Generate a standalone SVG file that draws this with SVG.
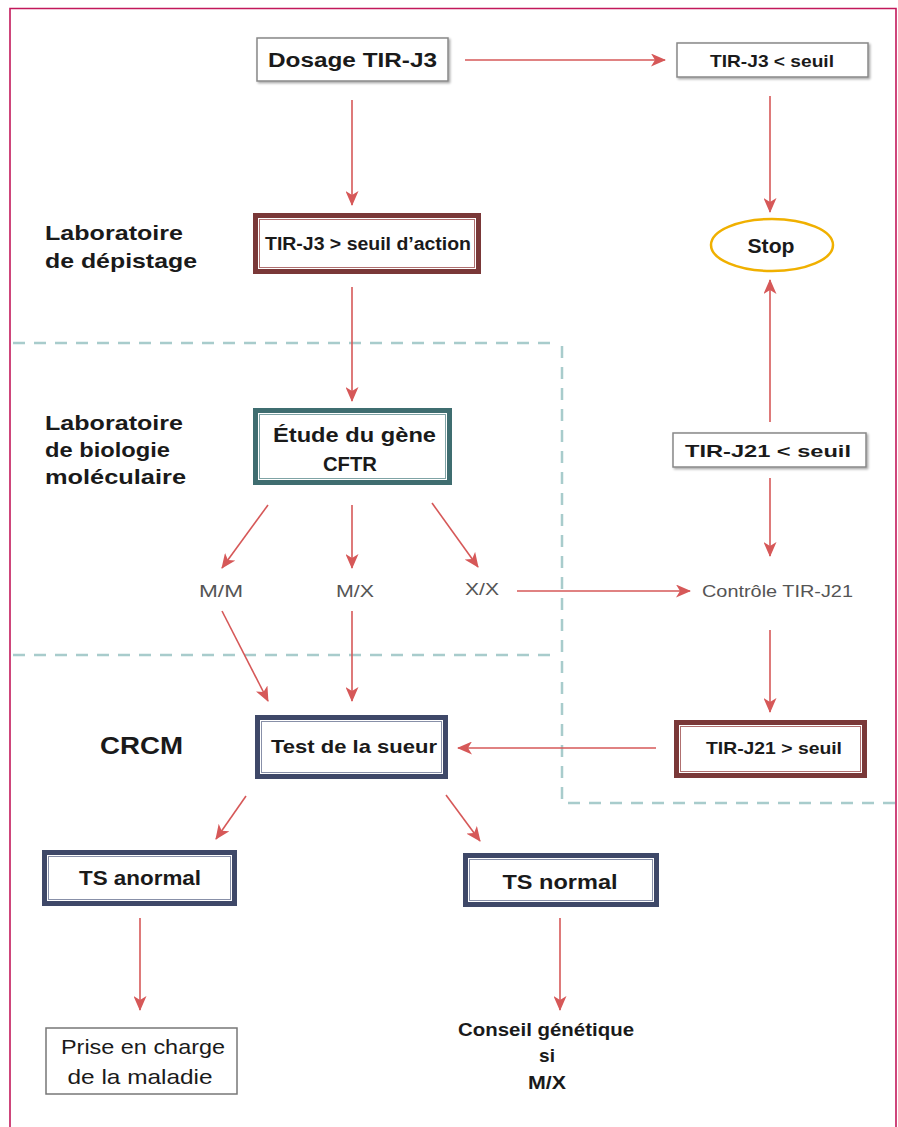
<svg xmlns="http://www.w3.org/2000/svg" width="898" height="1127" viewBox="0 0 898 1127">
<defs>
<marker id="ah" viewBox="0 0 15 13" refX="14" refY="6.5" markerWidth="15" markerHeight="13" markerUnits="userSpaceOnUse" orient="auto">
<path d="M0,0 L15,6.5 L0,13 L4,6.5 Z" fill="#d65858"/>
</marker>
<filter id="sh" x="-10%" y="-20%" width="130%" height="150%">
<feDropShadow dx="1.5" dy="1.5" stdDeviation="1" flood-color="#000" flood-opacity="0.35"/>
</filter>
</defs>
<style>
.frame{fill:none;stroke:#c2185b;stroke-width:1.6}
.dash{fill:none;stroke:#a8cccc;stroke-width:2.5;stroke-dasharray:12 9}
.c{fill:none;stroke:#d65858;stroke-width:1.6;marker-end:url(#ah)}
.thin{fill:#fff;stroke:#888;stroke-width:1.5;filter:url(#sh)}
.red{fill:#fff;stroke:#7a3838;stroke-width:5}
.redi{fill:none;stroke:#b07070;stroke-width:1}
.teal{fill:#fff;stroke:#3f6d70;stroke-width:5}
.teali{fill:none;stroke:#7fa3a5;stroke-width:1}
.navy{fill:#fff;stroke:#3e4868;stroke-width:5}
.navyi{fill:none;stroke:#8890a8;stroke-width:1}
text{font-family:"Liberation Sans",Arial,sans-serif;fill:#1a1a1a}
.b{font-weight:bold}
.lbl{font-weight:bold;font-size:21px}
.n{font-weight:normal;fill:#555;font-size:17px}
</style>
<rect width="898" height="1127" fill="#fff"/>
<path class="frame" d="M10,1127 V8.5 H896 V1127"/>
<g id="zones">
<path class="dash" d="M13,343 H558"/>
<path class="dash" d="M562,346 V802"/>
<path class="dash" d="M13,655 H558"/>
<path class="dash" d="M568,803 H895"/>
</g>
<g id="labels">
<text class="lbl" x="45" y="240" textLength="138" lengthAdjust="spacingAndGlyphs">Laboratoire</text>
<text class="lbl" x="45" y="268" textLength="152" lengthAdjust="spacingAndGlyphs">de dépistage</text>
<text class="lbl" x="45" y="430" textLength="138" lengthAdjust="spacingAndGlyphs">Laboratoire</text>
<text class="lbl" x="45" y="457" textLength="125" lengthAdjust="spacingAndGlyphs">de biologie</text>
<text class="lbl" x="45" y="484" textLength="141" lengthAdjust="spacingAndGlyphs">moléculaire</text>
<text class="b" x="100" y="754" font-size="23" textLength="83" lengthAdjust="spacingAndGlyphs">CRCM</text>
</g>
<g id="connectors">
<path class="c" d="M465,60 H665"/>
<path class="c" d="M352,100 V205"/>
<path class="c" d="M770,96 V212"/>
<path class="c" d="M352,287 V401"/>
<path class="c" d="M770,422 V280"/>
<path class="c" d="M770,478 V556"/>
<path class="c" d="M268,505 L222,568"/>
<path class="c" d="M352,505 V568"/>
<path class="c" d="M432,503 L478,567"/>
<path class="c" d="M517,591 H690"/>
<path class="c" d="M222,611 L268,701"/>
<path class="c" d="M352,611 V701"/>
<path class="c" d="M770,630 V712"/>
<path class="c" d="M656,748 H458"/>
<path class="c" d="M246,796 L216,839"/>
<path class="c" d="M446,795 L480,841"/>
<path class="c" d="M140,918 V1010"/>
<path class="c" d="M560,918 V1010"/>
</g>
<g id="n-dosage">
<rect class="thin" x="257" y="38" width="191" height="43"/>
<text class="b" x="352.5" y="67" font-size="20" text-anchor="middle" textLength="169" lengthAdjust="spacingAndGlyphs">Dosage TIR-J3</text>
</g>
<g id="n-tirj3-inf">
<rect class="thin" x="677" y="43" width="191" height="34"/>
<text class="b" x="772" y="67" font-size="17" text-anchor="middle" textLength="124" lengthAdjust="spacingAndGlyphs">TIR-J3 &lt; seuil</text>
</g>
<g id="n-tirj3-sup">
<rect class="red" x="255.5" y="215.5" width="223" height="56"/>
<rect class="redi" x="259.5" y="219.5" width="215" height="48"/>
<text class="b" x="368" y="250" font-size="17.5" text-anchor="middle" textLength="206" lengthAdjust="spacingAndGlyphs">TIR-J3 &gt; seuil d’action</text>
</g>
<g id="n-stop">
<ellipse cx="772" cy="245" rx="61" ry="26" fill="#fff" stroke="#f0b000" stroke-width="2.5"/>
<text class="b" x="771" y="253" font-size="21" text-anchor="middle" textLength="47" lengthAdjust="spacingAndGlyphs">Stop</text>
</g>
<g id="n-etude">
<rect class="teal" x="255.5" y="410.5" width="194" height="72"/>
<rect class="teali" x="259.5" y="414.5" width="186" height="64"/>
<text class="b" x="354.5" y="442" font-size="19.5" text-anchor="middle" textLength="163" lengthAdjust="spacingAndGlyphs">Étude du gène</text>
<text class="b" x="350" y="471" font-size="19.5" text-anchor="middle" textLength="54" lengthAdjust="spacingAndGlyphs">CFTR</text>
</g>
<g id="n-tirj21-inf">
<rect class="thin" x="673" y="433" width="193" height="34"/>
<text class="b" x="768" y="457" font-size="17" text-anchor="middle" textLength="166" lengthAdjust="spacingAndGlyphs">TIR-J21 &lt; seuil</text>
</g>
<g id="n-mm"><text class="n" x="221" y="597" text-anchor="middle" textLength="44" lengthAdjust="spacingAndGlyphs">M/M</text></g>
<g id="n-mx"><text class="n" x="355" y="597" text-anchor="middle" textLength="38" lengthAdjust="spacingAndGlyphs">M/X</text></g>
<g id="n-xx"><text class="n" x="482" y="595" text-anchor="middle" textLength="34" lengthAdjust="spacingAndGlyphs" fill="#333">X/X</text></g>
<g id="n-controle"><text class="n" x="777.5" y="597" text-anchor="middle" textLength="151" lengthAdjust="spacingAndGlyphs">Contrôle TIR-J21</text></g>
<g id="n-test">
<rect class="navy" x="257.5" y="717.5" width="188" height="59"/>
<rect class="navyi" x="261.5" y="721.5" width="180" height="51"/>
<text class="b" x="354" y="753" font-size="19" text-anchor="middle" textLength="166" lengthAdjust="spacingAndGlyphs">Test de la sueur</text>
</g>
<g id="n-tirj21-sup">
<rect class="red" x="676.5" y="722.5" width="188" height="53"/>
<rect class="redi" x="680.5" y="726.5" width="180" height="45"/>
<text class="b" x="774" y="754" font-size="17" text-anchor="middle" textLength="136" lengthAdjust="spacingAndGlyphs">TIR-J21 &gt; seuil</text>
</g>
<g id="n-ts-anormal">
<rect class="navy" x="44.5" y="852.5" width="190" height="51"/>
<rect class="navyi" x="48.5" y="856.5" width="182" height="43"/>
<text class="b" x="140" y="885" font-size="20" text-anchor="middle" textLength="122" lengthAdjust="spacingAndGlyphs">TS anormal</text>
</g>
<g id="n-ts-normal">
<rect class="navy" x="465.5" y="855.5" width="191" height="49"/>
<rect class="navyi" x="469.5" y="859.5" width="183" height="41"/>
<text class="b" x="560" y="889" font-size="20" text-anchor="middle" textLength="115" lengthAdjust="spacingAndGlyphs">TS normal</text>
</g>
<g id="n-prise">
<rect x="46" y="1028" width="191" height="66" fill="#fff" stroke="#777" stroke-width="1.5"/>
<text x="143" y="1054" font-size="21" text-anchor="middle" fill="#444" textLength="164" lengthAdjust="spacingAndGlyphs">Prise en charge</text>
<text x="140" y="1084" font-size="21" text-anchor="middle" fill="#444" textLength="145" lengthAdjust="spacingAndGlyphs">de la maladie</text>
</g>
<g id="n-conseil">
<text class="b" x="546" y="1036" font-size="19" text-anchor="middle" textLength="176" lengthAdjust="spacingAndGlyphs">Conseil génétique</text>
<text class="b" x="547" y="1062" font-size="19" text-anchor="middle">si</text>
<text class="b" x="547" y="1089" font-size="19" text-anchor="middle" textLength="38" lengthAdjust="spacingAndGlyphs">M/X</text>
</g>
</svg>
